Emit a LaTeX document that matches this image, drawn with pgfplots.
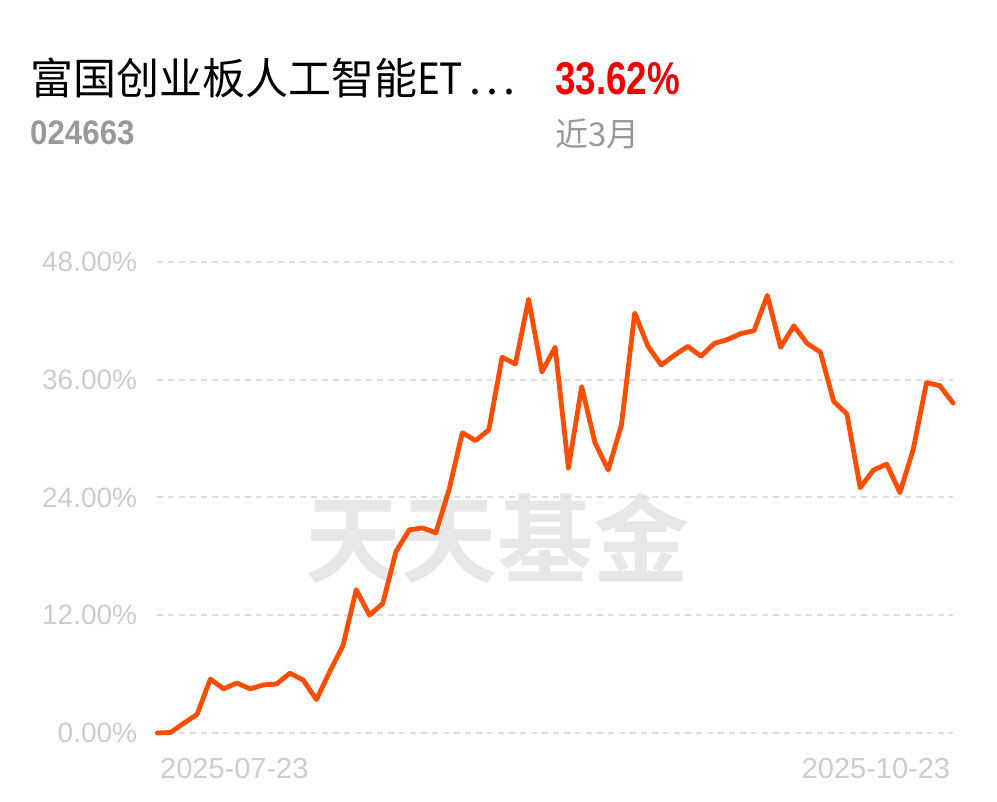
\documentclass[border=0pt]{standalone}
\usepackage{fontspec}
\usepackage{graphicx}
\usepackage{pgfplots}
\pgfplotsset{compat=1.18}
\setmainfont{Liberation Sans}
\newfontfamily\cjk{Noto Sans CJK SC}[BoldFont={Noto Sans CJK SC Bold}]
\definecolor{lineorange}{RGB}{255,77,0}
\definecolor{wmgray}{RGB}{231,231,231}
\definecolor{gridgray}{RGB}{222,222,222}
\definecolor{ticklab}{RGB}{204,204,204}
\definecolor{subgray}{RGB}{153,153,153}
\definecolor{redtxt}{RGB}{240,0,0}
\begin{document}
\begin{tikzpicture}[x=1pt,y=1pt]
\useasboundingbox (0,0) rectangle (997,802);
% header
\node[anchor=base west,inner sep=0pt] at (30,707) {\cjk\fontsize{43}{47}\selectfont 富国创业板人工智能\scalebox{0.9}[1]{ET}\kern6pt.\kern5pt.\kern5pt.};
\node[anchor=base west,inner sep=0pt,text=redtxt] at (555,707) {\scalebox{0.8}[1]{\fontsize{46}{50}\selectfont\bfseries 33.62\%}};
\node[anchor=base west,inner sep=0pt,text=subgray] at (30,657) {\scalebox{0.92}[1]{\fontsize{34}{38}\selectfont\bfseries 024663}};
\node[anchor=base west,inner sep=0pt,text=subgray] at (555,655) {\cjk\fontsize{33}{36}\selectfont 近3月};
% watermark
\node[inner sep=0pt,text=wmgray] at (497,264) {\cjk\fontsize{96}{100}\selectfont\bfseries 天天基金};
\begin{axis}[
  at={(157.3pt,69pt)}, anchor=south west,
  scale only axis, width=795.7pt, height=471pt,
  xmin=0, xmax=60, ymin=0, ymax=48,
  clip=false,
  axis line style={draw=none},
  tick style={draw=none},
  xtick=\empty,
  ytick={0,12,24,36,48},
  yticklabels={0.00\%,12.00\%,24.00\%,36.00\%,48.00\%},
  yticklabel style={font=\fontsize{28}{30}\selectfont, text=ticklab, anchor=east, inner sep=0pt, xshift=-20pt},
  ymajorgrids,
  major grid style={draw=gridgray, line width=2pt, dash pattern=on 6pt off 5pt},
]
\addplot[color=lineorange, line width=4.8pt, line join=round, line cap=round] coordinates {
(0,0) (1,0.05) (2,1.0) (3,1.9) (4,5.5) (5,4.5) (6,5.1) (7,4.5) (8,4.9) (9,5.0)
(10,6.1) (11,5.4) (12,3.4) (13,6.25) (14,8.9) (15,14.6) (16,12.0) (17,13.2) (18,18.5) (19,20.7)
(20,20.9) (21,20.4) (22,24.8) (23,30.6) (24,29.8) (25,30.9) (26,38.3) (27,37.6) (28,44.2) (29,36.8)
(30,39.3) (31,27.0) (32,35.3) (33,29.6) (34,26.8) (35,31.4) (36,42.8) (37,39.4) (38,37.5) (39,38.5)
(40,39.4) (41,38.4) (42,39.7) (43,40.1) (44,40.7) (45,41.0) (46,44.6) (47,39.3) (48,41.5) (49,39.7)
(50,38.8) (51,33.8) (52,32.5) (53,25.0) (54,26.8) (55,27.4) (56,24.5) (57,28.9) (58,35.7) (59,35.4)
(60,33.62)
};
\node[anchor=base west, inner sep=0pt, text=ticklab, font=\fontsize{29}{31}\selectfont] at (axis cs:0.2,0) [yshift=-46pt] {2025-07-23};
\node[anchor=base east, inner sep=0pt, text=ticklab, font=\fontsize{29}{31}\selectfont] at (axis cs:59.8,0) [yshift=-46pt] {2025-10-23};
\end{axis}
\end{tikzpicture}
\end{document}
